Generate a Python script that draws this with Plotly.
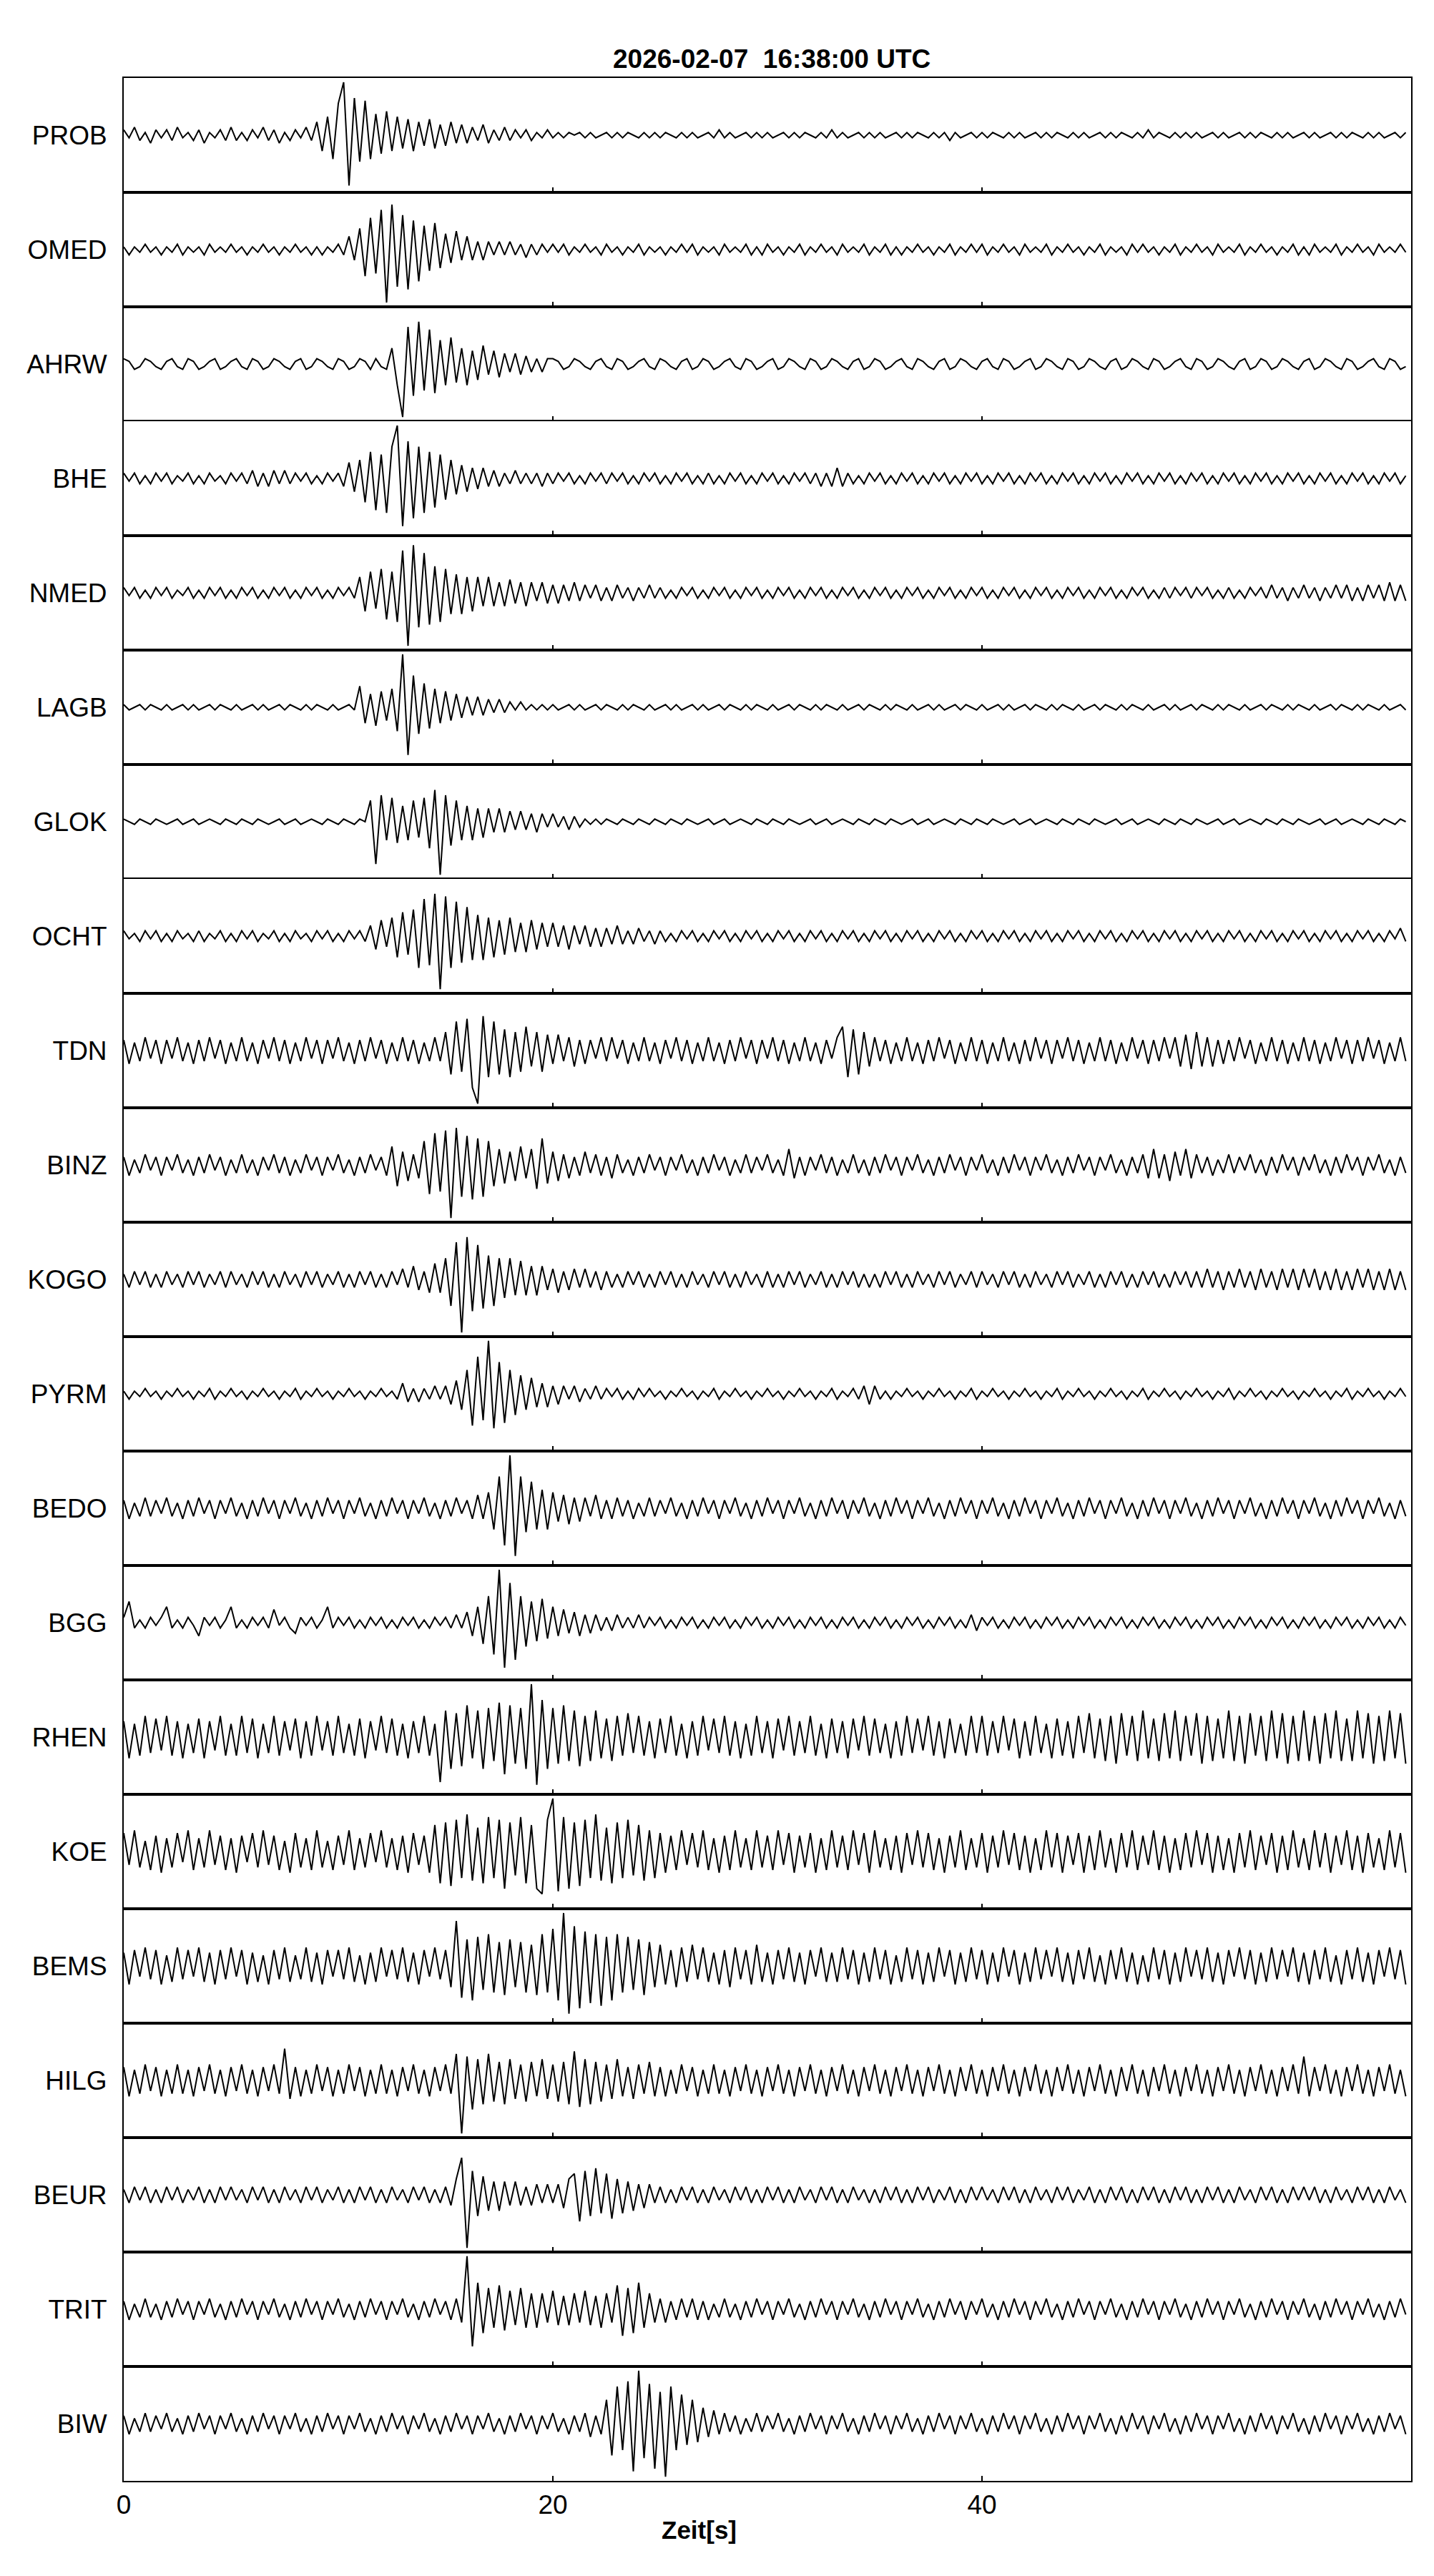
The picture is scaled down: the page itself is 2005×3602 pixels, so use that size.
import plotly.graph_objects as go
from plotly.subplots import make_subplots

TITLE = "2026-02-07\u00a0 16:38:00 UTC"
X_LABEL = "Zeit[s]"
DT = 0.25  # seconds between samples
X_RANGE = [0, 60]
X_TICKS = [0, 20, 40]
Y_LIM = 21.6

STATIONS = [
    "PROB", "OMED", "AHRW", "BHE", "NMED", "LAGB", "GLOK", "OCHT", "TDN", "BINZ", "KOGO",
    "PYRM", "BEDO", "BGG", "RHEN", "KOE", "BEMS", "HILG", "BEUR", "TRIT", "BIW",
]

# normalised amplitudes (max = 20), one sample every DT seconds
PROB = [
    2, -1, 3, -2, 1, -3, 2, -1, 2, -2, 3, -1, 1, -2, 2, -3, 1, -1, 2, -2,
    3, -2, 1, -2, 2, -1, 3, -2, 2, -3, 1, -2, 2, -1, 3, -2, 5, -6, 7, -9,
    12, 20, -19, 14, -10, 13, -9, 8, -7, 9, -6, 7, -5, 6, -6, 5, -4, 6, -5, 4,
    -4, 5, -3, 4, -3, 3, -2, 4, -3, 2, -2, 3, -2, 2, -1, 2, -2, 1, -1, 2,
    -1, 1, -1, 1, 0, 1, -1, 1, -1, 0, 1, -1, 1, -1, 1, 0, -1, 1, -1, 1,
    -1, 1, 0, -1, 1, -1, 1, -1, 0, 1, -1, 2, -1, 1, -1, 0, 1, -1, 1, -1,
    1, -1, 0, 1, -1, 1, -1, 1, 0, -1, 1, -1, 2, -1, 1, -1, 0, 1, -1, 1,
    -1, 1, -1, 0, 1, -1, 1, -1, 1, 0, -1, 1, -1, 1, -2, 1, -1, 0, 1, -1,
    1, -1, 1, 0, -1, 1, -1, 1, -1, 0, 1, -1, 1, -1, 1, 0, -1, 1, -1, 1,
    -1, 0, 1, -1, 1, -1, 1, 0, -1, 1, -1, 2, -1, 1, 0, -1, 1, -1, 1, -1,
    1, -1, 0, 1, -1, 1, -1, 0, 1, -1, 1, -1, 1, 0, -1, 1, -1, 1, -1, 0,
    1, -1, 1, -1, 0, 1, -1, 1, -1, 1, 0, -1, 1, -1, 1, -1, 0, 1, -1, 1,
]
OMED = [
    1, -2, 1, -1, 2, -1, 1, -2, 1, -1, 2, -2, 1, -1, 1, -2, 2, -1, 1, -1,
    2, -1, 1, -2, 1, -1, 2, -1, 1, -2, 1, -1, 2, -1, 1, -2, 1, -2, 1, -1,
    2, -2, 5, -4, 8, -10, 12, -9, 15, -20, 17, -14, 13, -15, 11, -12, 9, -8, 10, -7,
    6, -5, 7, -4, 5, -4, 3, -4, 3, -2, 3, -2, 3, -2, 2, -3, 2, -2, 2, -1,
    2, -1, 2, -2, 1, -1, 2, -1, 1, -2, 2, -1, 1, -2, 1, -1, 2, -2, 1, -1,
    1, -2, 1, -1, 2, -1, 2, -2, 1, -1, 1, -2, 2, -1, 1, -1, 2, -2, 1, -2,
    2, -1, 1, -2, 1, -1, 2, -2, 1, -1, 2, -1, 1, -2, 2, -1, 1, -1, 2, -2,
    1, -1, 2, -2, 1, -2, 1, -1, 2, -1, 1, -2, 1, -1, 2, -2, 1, -1, 2, -1,
    2, -2, 1, -1, 2, -1, 1, -2, 2, -1, 1, -1, 2, -2, 1, -1, 2, -1, 1, -2,
    1, -1, 2, -2, 1, -1, 1, -2, 2, -1, 2, -1, 1, -2, 1, -1, 2, -2, 1, -1,
    2, -1, 1, -2, 2, -1, 1, -1, 2, -2, 1, -1, 2, -1, 1, -2, 1, -1, 2, -2,
    1, -2, 2, -1, 1, -1, 2, -2, 1, -1, 2, -1, 1, -2, 2, -1, 1, -1, 2, -1,
]
AHRW = [
    2, 1, -2, -1, 2, 1, -1, -2, 1, 2, -1, -2, 2, 1, -2, -1, 1, 2, -2, -1,
    1, 2, -1, -2, 2, 1, -2, -1, 2, 1, -1, -2, 1, 2, -2, -1, 2, 1, -1, -2,
    2, 1, -2, -1, 2, 1, -2, 2, -1, -2, 6, -8, -20, 14, -12, 16, -10, 13, -11, 9,
    -8, 10, -7, 6, -8, 5, -6, 7, -4, 5, -5, 4, -3, 4, -4, 3, -3, 2, -3, 2,
    2, 1, -2, -1, 2, 1, -1, -2, 1, 2, -1, -2, 2, 1, -2, -1, 1, 2, -1, -2,
    2, 1, -1, -2, 1, 2, -2, -1, 2, 1, -2, -1, 1, 2, -1, -2, 2, 1, -2, -1,
    1, 2, -2, -1, 2, 1, -1, -2, 2, 1, -2, -1, 2, 1, -1, -2, 1, 2, -2, -1,
    2, 1, -2, -1, 1, 2, -1, -2, 2, 1, -1, -2, 1, 2, -2, -1, 2, 1, -1, -2,
    1, 2, -1, -2, 2, 1, -2, -1, 1, 2, -2, -1, 2, 1, -1, -2, 2, 1, -2, -1,
    2, 1, -1, -2, 1, 2, -2, -1, 2, 1, -1, -2, 2, 1, -2, -1, 1, 2, -1, -2,
    2, 1, -2, -1, 2, 1, -1, -2, 1, 2, -2, -1, 2, 1, -2, -1, 2, 1, -1, -2,
    1, 2, -2, -1, 2, 1, -1, -2, 2, 1, -2, -1, 1, 2, -1, -2, 2, 1, -2, -1,
]
BHE = [
    2, -1, 2, -2, 1, -2, 2, -1, 2, -2, 1, -1, 2, -2, 1, -2, 2, -1, 1, -2,
    2, -1, 2, -2, 3, -3, 2, -3, 3, -2, 3, -2, 2, -1, 2, -2, 1, -2, 2, -1,
    2, -3, 6, -5, 7, -9, 10, -12, 9, -13, 12, 20, -18, 14, -15, 12, -13, 10, -11, 9,
    -8, 7, -6, 5, -5, 4, -4, 4, -3, 3, -3, 2, -2, 3, -2, 2, -2, 2, -3, 2,
    -2, 2, -1, 2, -2, 1, -2, 2, -1, 2, -2, 2, -1, 2, -2, 1, -2, 2, -1, 2,
    -2, 1, -2, 2, -1, 2, -2, 1, -2, 2, -2, 1, -2, 2, -1, 2, -2, 1, -2, 2,
    -1, 2, -2, 1, -2, 2, -1, 2, -2, 2, -3, 2, -3, 4, -3, 2, -2, 1, -2, 2,
    -1, 2, -2, 1, -2, 2, -1, 2, -2, 1, -2, 2, -1, 2, -2, 1, -2, 2, -1, 2,
    -2, 1, -2, 2, -1, 2, -2, 1, -2, 2, -1, 2, -2, 1, -2, 2, -1, 2, -2, 1,
    -2, 2, -1, 2, -2, 1, -2, 2, -1, 2, -2, 1, -2, 2, -1, 2, -2, 1, -2, 2,
    -1, 2, -2, 1, -2, 2, -1, 2, -2, 1, -2, 2, -1, 2, -2, 1, -2, 2, -1, 2,
    -2, 1, -2, 2, -1, 2, -2, 1, -2, 2, -1, 2, -2, 1, -2, 2, -1, 2, -2, 1,
]
NMED = [
    2, -1, 2, -2, 1, -2, 2, -1, 2, -2, 1, -1, 2, -2, 1, -2, 2, -1, 2, -2,
    1, -2, 2, -1, 2, -2, 1, -2, 2, -1, 2, -2, 1, -2, 2, -1, 2, -2, 1, -2,
    2, -1, 2, -2, 6, -7, 8, -6, 9, -10, 8, -11, 16, -20, 18, -13, 15, -12, 10, -11,
    9, -8, 7, -8, 6, -7, 6, -5, 6, -5, 4, -5, 5, -4, 4, -5, 4, -3, 4, -4,
    3, -4, 3, -3, 4, -3, 3, -2, 3, -3, 2, -3, 3, -2, 2, -3, 2, -2, 3, -2,
    2, -2, 1, -2, 2, -1, 2, -2, 1, -2, 2, -1, 2, -2, 1, -2, 2, -1, 2, -2,
    1, -2, 2, -1, 2, -2, 1, -2, 2, -1, 2, -2, 1, -2, 2, -1, 2, -2, 1, -2,
    2, -1, 2, -2, 1, -2, 2, -1, 2, -2, 1, -2, 2, -1, 2, -2, 1, -2, 2, -1,
    2, -2, 1, -2, 2, -1, 2, -2, 1, -2, 2, -1, 2, -2, 1, -2, 2, -1, 2, -2,
    1, -2, 2, -1, 2, -2, 1, -2, 2, -1, 2, -2, 1, -2, 2, -2, 2, -1, 2, -2,
    2, -1, 2, -2, 1, -2, 2, -2, 1, -2, 2, -1, 2, -2, 3, -2, 2, -3, 2, -2,
    3, -2, 2, -3, 2, -2, 3, -2, 3, -3, 2, -3, 3, -2, 3, -3, 4, -3, 3, -3,
]
LAGB = [
    1, -1, 0, 1, -1, 1, 0, -1, 1, -1, 0, 1, -1, 1, -1, 0, 1, -1, 1, 0,
    -1, 1, -1, 0, 1, -1, 1, -1, 0, 1, -1, 1, 0, -1, 1, -1, 1, 0, -1, 1,
    -1, 0, 1, -1, 8, -6, 5, -7, 6, -5, 7, -9, 20, -18, 12, -10, 9, -8, 7, -6,
    6, -5, 5, -4, 4, -3, 4, -3, 3, -2, 3, -2, 2, -1, 2, -1, 1, -1, 1, -1,
    1, -1, 0, 1, -1, 1, -1, 0, 1, -1, 1, 0, -1, 1, -1, 1, 0, -1, 1, -1,
    0, 1, -1, 1, -1, 0, 1, -1, 1, -1, 0, 1, -1, 1, 0, -1, 1, -1, 1, 0,
    -1, 1, -1, 0, 1, -1, 1, 0, -1, 1, -1, 1, 0, -1, 1, -1, 0, 1, -1, 1,
    0, -1, 1, -1, 1, 0, -1, 1, -1, 0, 1, -1, 1, -1, 0, 1, -1, 1, 0, -1,
    1, -1, 0, 1, -1, 1, -1, 0, 1, -1, 1, 0, -1, 1, -1, 1, 0, -1, 1, -1,
    0, 1, -1, 1, 0, -1, 1, -1, 1, 0, -1, 1, -1, 0, 1, -1, 1, -1, 0, 1,
    -1, 1, 0, -1, 1, -1, 1, 0, -1, 1, -1, 0, 1, -1, 1, 0, -1, 1, -1, 1,
    0, -1, 1, -1, 0, 1, -1, 1, 0, -1, 1, -1, 1, 0, -1, 1, -1, 0, 1, -1,
]
GLOK = [
    1, 0, -1, 1, 0, -1, 1, 0, -1, 0, 1, -1, 0, 1, -1, 0, 1, 0, -1, 1,
    0, -1, 1, 0, -1, 1, 0, -1, 0, 1, -1, 0, 1, -1, 0, 1, 0, -1, 1, 0,
    -1, 1, 0, -1, 1, 0, 8, -16, 10, -7, 9, -8, 6, -7, 8, -6, 9, -10, 12, -20,
    10, -9, 8, -7, 6, -7, 5, -6, 5, -4, 5, -4, 4, -3, 4, -3, 3, -4, 3, -2,
    3, -2, 2, -3, 2, -2, 1, -1, 1, -1, 1, 0, -1, 1, 0, -1, 1, 0, -1, 1,
    0, -1, 1, 0, -1, 1, 0, -1, 0, 1, -1, 0, 1, -1, 0, 1, 0, -1, 1, 0,
    -1, 1, 0, -1, 1, 0, -1, 0, 1, -1, 0, 1, -1, 0, 1, 0, -1, 1, 0, -1,
    1, 0, -1, 1, 0, -1, 0, 1, -1, 0, 1, -1, 0, 1, 0, -1, 1, 0, -1, 1,
    0, -1, 1, 0, -1, 0, 1, -1, 0, 1, -1, 0, 1, 0, -1, 1, 0, -1, 1, 0,
    -1, 1, 0, -1, 0, 1, -1, 0, 1, -1, 0, 1, 0, -1, 1, 0, -1, 1, 0, -1,
    1, 0, -1, 0, 1, -1, 0, 1, -1, 0, 1, 0, -1, 1, 0, -1, 1, 0, -1, 1,
    0, -1, 0, 1, -1, 0, 1, -1, 0, 1, 0, -1, 1, 0, -1, 1, 0, -1, 1, 0,
]
OCHT = [
    2, -1, 1, -2, 2, -1, 2, -2, 1, -2, 2, -1, 1, -2, 2, -2, 1, -1, 2, -2,
    1, -2, 2, -1, 2, -2, 1, -1, 2, -2, 1, -2, 2, -1, 1, -2, 2, -1, 2, -2,
    1, -2, 2, -1, 2, -2, 4, -5, 6, -4, 7, -8, 9, -7, 10, -12, 14, -11, 16, -20,
    15, -12, 13, -10, 11, -9, 8, -9, 7, -8, 6, -7, 7, -6, 5, -6, 6, -5, 5, -4,
    5, -4, 4, -5, 4, -3, 4, -4, 3, -4, 3, -3, 4, -3, 2, -3, 3, -2, 2, -3,
    2, -2, 1, -2, 2, -1, 2, -2, 1, -2, 2, -1, 2, -2, 1, -2, 2, -1, 2, -2,
    1, -2, 2, -1, 2, -2, 1, -2, 2, -1, 2, -2, 1, -2, 2, -1, 2, -2, 1, -2,
    2, -1, 2, -2, 1, -2, 2, -1, 2, -2, 1, -2, 2, -1, 2, -2, 1, -2, 2, -1,
    2, -2, 1, -2, 2, -1, 2, -2, 1, -2, 2, -1, 2, -2, 1, -2, 2, -1, 2, -2,
    1, -2, 2, -1, 2, -2, 1, -2, 2, -1, 2, -2, 1, -2, 2, -1, 2, -2, 1, -2,
    2, -1, 2, -2, 1, -2, 2, -1, 2, -2, 1, -2, 2, -1, 2, -2, 1, -2, 2, -1,
    2, -2, 1, -2, 2, -1, 2, -2, 1, -2, 2, -1, 2, -2, 1, -2, 2, -1, 3, -2,
]
TDN = [
    4, -5, 3, -4, 5, -3, 4, -5, 4, -3, 5, -4, 3, -5, 4, -4, 5, -3, 4, -5,
    3, -4, 5, -4, 3, -5, 4, -3, 5, -4, 4, -5, 3, -4, 5, -3, 4, -5, 4, -3,
    5, -4, 3, -5, 4, -4, 5, -3, 4, -5, 3, -4, 5, -4, 4, -5, 3, -4, 5, -4,
    7, -9, 11, -8, 12, -14, -20, 13, -10, 11, -9, 8, -10, 7, -8, 9, -6, 7, -8, 6,
    -5, 6, -4, 5, -6, 4, -5, 4, -3, 5, -4, 5, -3, 4, -5, 3, -4, 5, -4, 3,
    -5, 4, -3, 5, -4, 4, -5, 3, -4, 5, -4, 3, -5, 4, -4, 5, -3, 4, -5, 4,
    -3, 5, -4, 4, -5, 3, -4, 5, -4, 3, -5, 4, -3, 5, 9, -10, 8, -9, 7, -6,
    5, -4, 4, -5, 3, -4, 5, -4, 3, -5, 4, -4, 5, -3, 4, -5, 3, -4, 5, -4,
    4, -5, 3, -4, 5, -4, 3, -5, 4, -4, 5, -3, 4, -5, 4, -3, 5, -4, 4, -5,
    3, -4, 5, -4, 4, -5, 3, -4, 5, -3, 4, -5, 4, -4, 5, -3, 5, -6, 6, -7,
    7, -6, 5, -6, 4, -5, 4, -4, 5, -3, 4, -5, 3, -4, 5, -4, 4, -5, 3, -4,
    5, -4, 4, -5, 3, -4, 5, -3, 4, -5, 4, -4, 5, -3, 4, -5, 3, -4, 5, -4,
]
BINZ = [
    3, -4, 2, -3, 4, -2, 3, -4, 3, -2, 4, -3, 2, -4, 3, -3, 4, -2, 3, -4,
    2, -3, 4, -3, 2, -4, 3, -2, 4, -3, 3, -4, 2, -3, 4, -2, 3, -4, 3, -2,
    4, -3, 2, -4, 3, -3, 4, -2, 3, -4, 7, -8, 5, -6, 4, -5, 9, -11, 12, -10,
    13, -20, 14, -12, 11, -13, 10, -12, 9, -8, 6, -7, 5, -6, 7, -5, 6, -9, 10, -7,
    5, -6, 4, -5, 3, -4, 5, -3, 4, -4, 3, -5, 4, -3, 2, -4, 3, -3, 4, -2,
    3, -4, 3, -2, 4, -3, 2, -4, 3, -3, 4, -2, 3, -4, 2, -3, 4, -3, 3, -2,
    4, -3, 2, -4, 6, -5, 3, -4, 3, -2, 4, -3, 3, -4, 2, -3, 4, -3, 2, -4,
    3, -3, 4, -2, 3, -4, 3, -2, 4, -3, 2, -4, 3, -3, 4, -2, 3, -4, 3, -2,
    4, -3, 2, -4, 3, -3, 4, -2, 3, -4, 3, -2, 4, -3, 2, -4, 3, -3, 4, -2,
    3, -4, 3, -2, 4, -3, 2, -4, 3, -3, 4, -5, 6, -5, 4, -6, 5, -4, 6, -5,
    4, -3, 3, -4, 2, -3, 4, -3, 3, -2, 4, -3, 2, -4, 3, -3, 4, -2, 3, -4,
    3, -2, 4, -3, 2, -4, 3, -3, 4, -2, 3, -4, 3, -2, 4, -3, 2, -4, 3, -3,
]
KOGO = [
    2, -3, 3, -2, 3, -3, 2, -3, 3, -2, 2, -3, 3, -2, 3, -3, 2, -2, 3, -3,
    3, -2, 2, -3, 3, -2, 3, -3, 2, -3, 3, -2, 2, -3, 3, -2, 3, -3, 2, -2,
    3, -3, 2, -3, 3, -2, 3, -3, 2, -3, 3, -2, 4, -3, 5, -4, 3, -5, 6, -5,
    8, -10, 14, -20, 16, -12, 13, -11, 9, -10, 8, -7, 8, -6, 7, -6, 5, -6, 5, -4,
    4, -5, 3, -4, 4, -3, 4, -3, 3, -4, 3, -3, 2, -3, 3, -2, 3, -3, 2, -3,
    3, -2, 3, -3, 2, -3, 3, -2, 2, -3, 3, -2, 3, -3, 2, -3, 3, -2, 2, -3,
    3, -3, 2, -3, 3, -2, 3, -3, 2, -2, 3, -3, 2, -3, 3, -2, 3, -3, 2, -3,
    2, -3, 3, -2, 3, -3, 2, -3, 3, -2, 2, -3, 3, -2, 3, -3, 2, -2, 3, -3,
    3, -2, 2, -3, 3, -2, 3, -3, 2, -3, 3, -2, 2, -3, 3, -2, 3, -3, 2, -2,
    3, -3, 2, -3, 3, -2, 3, -3, 2, -3, 3, -2, 3, -3, 2, -3, 3, -2, 3, -3,
    3, -3, 4, -3, 3, -4, 3, -3, 4, -3, 3, -4, 4, -3, 3, -4, 4, -3, 4, -4,
    4, -3, 4, -4, 3, -4, 4, -4, 3, -4, 4, -3, 4, -4, 3, -4, 4, -4, 3, -4,
]
PYRM = [
    1, -2, 1, -1, 2, -1, 1, -2, 1, -1, 2, -1, 1, -2, 1, -1, 2, -2, 1, -1,
    2, -1, 1, -2, 1, -1, 2, -1, 1, -2, 1, -1, 2, -2, 1, -1, 2, -1, 1, -2,
    1, -1, 2, -1, 1, -2, 1, -1, 2, -1, 1, -2, 4, -3, 2, -3, 2, -2, 3, -2,
    3, -4, 5, -6, 9, -12, 14, -10, 20, -13, 12, -11, 9, -8, 7, -6, 6, -5, 4, -5,
    3, -4, 3, -2, 3, -3, 2, -2, 3, -2, 2, -1, 2, -2, 1, -2, 2, -1, 2, -1,
    1, -2, 1, -1, 2, -1, 1, -2, 1, -1, 2, -2, 1, -1, 2, -1, 1, -2, 1, -1,
    2, -1, 1, -2, 1, -1, 2, -1, 1, -2, 1, -1, 2, -2, 1, -1, 2, -2, 3, -4,
    3, -2, 1, -2, 1, -1, 2, -1, 1, -2, 1, -1, 2, -1, 1, -2, 1, -1, 2, -2,
    1, -1, 2, -1, 1, -2, 1, -1, 2, -1, 1, -2, 1, -1, 2, -2, 1, -1, 2, -1,
    1, -2, 1, -1, 2, -1, 1, -2, 1, -1, 2, -2, 1, -1, 2, -1, 1, -2, 1, -1,
    2, -1, 1, -2, 1, -1, 2, -2, 1, -1, 2, -1, 1, -2, 1, -1, 2, -1, 1, -2,
    1, -1, 2, -1, 1, -2, 1, -1, 2, -2, 1, -1, 2, -1, 1, -2, 1, -1, 2, -1,
]
BEDO = [
    3, -4, 2, -3, 4, -3, 3, -2, 4, -3, 2, -4, 3, -3, 4, -2, 3, -4, 3, -2,
    4, -3, 2, -4, 3, -3, 4, -2, 3, -4, 3, -2, 4, -3, 2, -4, 3, -3, 4, -2,
    3, -4, 3, -2, 4, -3, 2, -4, 3, -3, 4, -2, 3, -4, 3, -2, 4, -3, 2, -4,
    3, -3, 4, -2, 3, -4, 5, -4, 6, -8, 12, -14, 20, -18, 12, -9, 10, -8, 7, -8,
    6, -5, 5, -6, 4, -5, 4, -3, 5, -4, 3, -4, 4, -3, 3, -4, 2, -3, 4, -3,
    3, -2, 4, -3, 2, -4, 3, -3, 4, -2, 3, -4, 3, -2, 4, -3, 2, -4, 3, -3,
    4, -2, 3, -4, 3, -2, 4, -3, 2, -4, 3, -3, 4, -2, 3, -4, 3, -2, 4, -3,
    2, -4, 3, -3, 4, -2, 3, -4, 3, -2, 4, -3, 2, -4, 3, -3, 4, -2, 3, -4,
    3, -2, 4, -3, 2, -4, 3, -3, 4, -2, 3, -4, 3, -2, 4, -3, 2, -4, 3, -3,
    4, -2, 3, -4, 3, -2, 4, -3, 2, -4, 3, -3, 4, -2, 3, -4, 3, -2, 4, -3,
    2, -4, 3, -3, 4, -2, 3, -4, 3, -2, 4, -3, 2, -4, 3, -3, 4, -2, 3, -4,
    3, -2, 4, -3, 2, -4, 3, -3, 4, -2, 3, -4, 3, -2, 4, -3, 2, -4, 3, -3,
]
BGG = [
    2, 8, -2, 1, -2, 2, -1, 2, 6, -2, 1, -2, 2, -1, -5, 2, -1, 2, -2, 1,
    6, -2, 1, -2, 2, -1, 2, -2, 5, -1, 2, -2, -4, 2, -1, 2, -2, 1, 6, -2,
    2, -1, 2, -2, 1, -2, 2, -1, 2, -2, 1, -2, 2, -1, 2, -2, 1, -2, 2, -1,
    2, -2, 3, -2, 4, -5, 6, -8, 10, -12, 20, -17, 15, -14, 10, -9, 8, -7, 9, -6,
    6, -5, 5, -4, 4, -5, 3, -4, 3, -3, 2, -3, 3, -2, 2, -2, 3, -2, 2, -1,
    2, -2, 1, -2, 2, -1, 2, -2, 1, -2, 2, -1, 2, -2, 1, -2, 2, -1, 2, -2,
    1, -2, 2, -1, 2, -2, 1, -2, 2, -1, 2, -2, 1, -2, 2, -1, 2, -2, 1, -2,
    2, -1, 2, -2, 1, -2, 2, -1, 2, -2, 1, -2, 2, -1, 2, -2, 1, -2, 3, -3,
    2, -1, 2, -2, 1, -2, 2, -1, 2, -2, 1, -2, 2, -1, 2, -2, 1, -2, 2, -1,
    2, -2, 1, -2, 2, -1, 2, -2, 1, -2, 2, -1, 2, -2, 1, -2, 2, -1, 2, -2,
    1, -2, 2, -1, 2, -2, 1, -2, 2, -1, 2, -2, 1, -2, 2, -1, 2, -2, 1, -2,
    2, -1, 2, -2, 1, -2, 2, -1, 2, -2, 1, -2, 2, -1, 2, -2, 1, -2, 2, -1,
]
RHEN = [
    6, -8, 5, -7, 8, -6, 7, -5, 8, -7, 6, -8, 5, -6, 7, -8, 6, -5, 8, -7,
    5, -7, 8, -6, 7, -8, 5, -6, 8, -7, 6, -5, 7, -8, 6, -7, 8, -5, 6, -7,
    8, -6, 5, -7, 7, -8, 6, -5, 8, -6, 7, -7, 5, -8, 6, -6, 8, -7, 5, -17,
    10, -12, 9, -11, 12, -8, 10, -12, 11, -9, 13, -14, 12, -10, 11, -12, 20, -18, 14, -12,
    11, -10, 12, -9, 10, -11, 8, -9, 10, -8, 7, -9, 8, -7, 9, -6, 8, -7, 6, -8,
    7, -6, 8, -7, 5, -8, 6, -7, 8, -5, 7, -6, 8, -7, 6, -8, 5, -7, 8, -6,
    6, -8, 7, -5, 8, -7, 6, -6, 8, -7, 5, -8, 7, -6, 6, -8, 7, -5, 8, -7,
    7, -6, 5, -8, 6, -7, 8, -6, 7, -5, 8, -7, 6, -8, 7, -6, 5, -7, 8, -6,
    8, -7, 6, -6, 8, -5, 7, -8, 6, -7, 8, -6, 5, -8, 7, -7, 6, -8, 8, -6,
    9, -8, 7, -9, 8, -10, 9, -7, 8, -9, 10, -8, 7, -9, 9, -8, 10, -9, 8, -7,
    9, -10, 8, -9, 7, -8, 10, -9, 8, -10, 9, -7, 8, -9, 10, -8, 9, -10, 8, -9,
    10, -9, 8, -10, 9, -8, 10, -9, 7, -9, 10, -8, 9, -10, 8, -9, 10, -8, 9, -10,
]
KOE = [
    7, -5, 8, -6, 4, -7, 6, -8, 5, -6, 7, -4, 8, -7, 5, -6, 8, -5, 6, -7,
    5, -8, 6, -4, 7, -6, 8, -5, 6, -7, 4, -8, 7, -6, 5, -7, 8, -6, 4, -7,
    6, -5, 8, -7, 5, -6, 7, -4, 8, -6, 5, -7, 6, -8, 7, -5, 6, -8, 10, -12,
    11, -13, 12, -10, 14, -11, 9, -12, 13, -10, 12, -14, 11, -9, 13, -12, 10, -14, -16, 12,
    20, -15, 13, -14, 11, -13, 12, -10, 14, -11, 9, -12, 11, -10, 12, -9, 10, -11, 8, -10,
    7, -8, 6, -7, 8, -5, 7, -6, 8, -7, 5, -8, 6, -7, 8, -6, 5, -7, 8, -6,
    6, -7, 8, -5, 7, -8, 6, -6, 7, -8, 5, -7, 8, -6, 6, -7, 8, -5, 7, -8,
    8, -6, 5, -7, 6, -8, 7, -5, 8, -6, 7, -7, 5, -8, 6, -6, 8, -7, 5, -6,
    7, -8, 6, -6, 8, -5, 7, -7, 6, -8, 5, -7, 8, -6, 7, -8, 6, -5, 7, -8,
    6, -7, 8, -6, 5, -8, 7, -6, 8, -7, 6, -5, 8, -7, 6, -8, 5, -7, 7, -6,
    8, -5, 7, -8, 6, -7, 5, -8, 7, -6, 8, -7, 6, -5, 7, -8, 6, -7, 8, -6,
    5, -7, 8, -6, 7, -8, 6, -5, 8, -7, 6, -8, 7, -6, 5, -7, 8, -6, 7, -8,
]
BEMS = [
    5, -7, 6, -4, 7, -5, 6, -7, 4, -6, 7, -5, 6, -4, 7, -6, 5, -7, 6, -5,
    7, -4, 6, -7, 5, -6, 4, -7, 6, -5, 7, -6, 4, -5, 7, -6, 5, -7, 6, -4,
    6, -5, 7, -6, 4, -7, 5, -6, 7, -4, 6, -5, 7, -6, 5, -7, 6, -4, 7, -5,
    6, -8, 17, -12, 10, -13, 11, -9, 12, -10, 9, -11, 10, -8, 9, -10, 8, -11, 12, -10,
    14, -13, 20, -18, 15, -16, 13, -14, 12, -15, 11, -13, 12, -10, 11, -9, 10, -11, 9, -8,
    8, -7, 6, -8, 7, -6, 8, -5, 7, -6, 5, -7, 6, -8, 7, -5, 6, -7, 8, -6,
    5, -7, 6, -5, 7, -6, 5, -7, 6, -4, 7, -6, 5, -6, 7, -5, 6, -7, 5, -6,
    7, -5, 6, -7, 4, -6, 7, -5, 6, -7, 5, -6, 7, -4, 6, -7, 5, -6, 7, -5,
    6, -7, 5, -6, 7, -4, 6, -7, 5, -6, 7, -5, 6, -4, 7, -6, 5, -7, 6, -5,
    7, -6, 4, -7, 6, -5, 7, -6, 5, -7, 4, -6, 7, -5, 6, -7, 5, -6, 7, -4,
    6, -5, 7, -6, 5, -7, 6, -4, 7, -5, 6, -7, 5, -6, 7, -5, 6, -4, 7, -6,
    5, -7, 6, -5, 7, -6, 4, -7, 6, -5, 7, -6, 5, -7, 6, -4, 7, -5, 6, -7,
]
HILG = [
    5, -6, 4, -5, 6, -4, 5, -6, 4, -5, 6, -5, 4, -6, 5, -4, 6, -5, 4, -6,
    5, -4, 6, -5, 4, -6, 5, -4, 6, -5, 12, -7, 5, -6, 4, -5, 6, -4, 5, -6,
    4, -5, 6, -4, 5, -6, 4, -5, 6, -5, 4, -6, 5, -4, 6, -5, 4, -6, 5, -4,
    6, -5, 10, -20, 9, -11, 8, -9, 10, -8, 7, -9, 8, -7, 6, -8, 7, -6, 8, -7,
    6, -8, 7, -9, 11, -10, 8, -9, 7, -8, 6, -7, 8, -6, 5, -7, 6, -5, 7, -6,
    5, -6, 4, -5, 6, -4, 5, -6, 4, -5, 6, -5, 4, -6, 5, -4, 6, -5, 4, -6,
    5, -4, 6, -5, 4, -6, 5, -4, 6, -5, 4, -6, 5, -4, 6, -5, 4, -6, 5, -4,
    6, -5, 4, -6, 5, -4, 6, -5, 4, -6, 5, -4, 6, -5, 4, -6, 5, -4, 6, -5,
    4, -6, 5, -4, 6, -5, 4, -6, 5, -4, 6, -5, 4, -6, 5, -4, 6, -5, 4, -6,
    5, -4, 6, -5, 4, -6, 5, -4, 6, -5, 4, -6, 5, -4, 6, -5, 4, -6, 5, -4,
    6, -5, 4, -6, 5, -4, 6, -5, 4, -6, 5, -4, 6, -5, 4, -6, 5, -4, 6, -5,
    9, -6, 5, -4, 6, -5, 4, -6, 5, -4, 6, -5, 4, -6, 5, -4, 6, -5, 4, -6,
]
BEUR = [
    2, -3, 3, -2, 3, -3, 2, -3, 3, -2, 3, -3, 2, -2, 3, -3, 2, -3, 3, -2,
    3, -2, 2, -3, 3, -2, 3, -3, 2, -3, 3, -2, 2, -3, 3, -2, 3, -3, 2, -2,
    3, -3, 2, -3, 3, -2, 3, -3, 2, -3, 3, -2, 2, -3, 3, -2, 3, -3, 2, -3,
    3, -4, 6, 14, -20, 9, -8, 7, -6, 5, -6, 5, -4, 5, -4, 3, -4, 4, -3, 4,
    -3, 4, -5, 6, 8, -10, 9, -8, 10, -7, 8, -9, 6, -7, 5, -6, 4, -5, 4, -3,
    3, -3, 2, -3, 3, -2, 3, -3, 2, -3, 3, -2, 2, -3, 3, -2, 3, -3, 2, -3,
    3, -2, 3, -3, 2, -3, 3, -2, 2, -3, 3, -2, 3, -3, 2, -3, 3, -2, 2, -3,
    2, -3, 3, -2, 3, -3, 2, -3, 3, -2, 3, -3, 2, -2, 3, -3, 2, -3, 3, -2,
    3, -2, 2, -3, 3, -2, 3, -3, 2, -3, 3, -2, 2, -3, 3, -2, 3, -3, 2, -2,
    3, -3, 2, -3, 3, -2, 3, -3, 2, -3, 3, -2, 3, -3, 2, -3, 3, -2, 3, -3,
    2, -3, 3, -2, 3, -3, 2, -3, 3, -2, 2, -3, 3, -2, 3, -3, 2, -3, 3, -2,
    3, -2, 3, -3, 2, -3, 3, -2, 2, -3, 3, -2, 3, -3, 2, -3, 3, -2, 2, -3,
]
TRIT = [
    3, -4, 2, -3, 4, -3, 2, -4, 3, -3, 4, -2, 3, -4, 3, -2, 4, -3, 2, -4,
    3, -3, 4, -2, 3, -4, 3, -2, 4, -3, 2, -4, 3, -3, 4, -2, 3, -4, 3, -2,
    4, -3, 2, -4, 3, -3, 4, -2, 3, -4, 3, -2, 4, -3, 2, -4, 3, -3, 4, -2,
    3, -4, 4, -5, 20, -14, 10, -9, 8, -7, 9, -8, 7, -6, 8, -7, 6, -7, 6, -5,
    7, -6, 5, -6, 6, -5, 7, -6, 5, -7, 6, -5, 9, -10, 8, -9, 10, -7, 6, -5,
    4, -5, 3, -4, 4, -3, 4, -4, 3, -4, 2, -3, 4, -3, 2, -4, 3, -3, 4, -2,
    3, -4, 3, -2, 4, -3, 2, -4, 3, -3, 4, -2, 3, -4, 3, -2, 4, -3, 2, -4,
    3, -3, 4, -2, 3, -4, 3, -2, 4, -3, 2, -4, 3, -3, 4, -2, 3, -4, 3, -2,
    4, -3, 2, -4, 3, -3, 4, -2, 3, -4, 3, -2, 4, -3, 2, -4, 3, -3, 4, -2,
    3, -4, 3, -2, 4, -3, 2, -4, 3, -3, 4, -2, 3, -4, 3, -2, 4, -3, 2, -4,
    3, -3, 4, -2, 3, -4, 3, -2, 4, -3, 2, -4, 3, -3, 4, -2, 3, -4, 3, -2,
    4, -3, 2, -4, 3, -3, 4, -2, 3, -4, 3, -2, 4, -3, 2, -4, 3, -3, 4, -2,
]
BIW = [
    3, -4, 2, -3, 4, -3, 3, -2, 4, -3, 2, -4, 3, -3, 4, -2, 3, -4, 3, -2,
    4, -3, 2, -4, 3, -3, 4, -2, 3, -4, 3, -2, 4, -3, 2, -4, 3, -3, 4, -2,
    3, -4, 3, -2, 4, -3, 2, -4, 3, -3, 4, -2, 3, -4, 3, -2, 4, -3, 2, -4,
    3, -3, 4, -2, 3, -4, 3, -2, 4, -3, 2, -4, 3, -3, 4, -2, 3, -4, 3, -2,
    4, -3, 2, -4, 3, -3, 4, -5, 3, -4, 9, -12, 14, -10, 16, -18, 20, -13, 15, -17,
    12, -20, 14, -10, 11, -8, 9, -7, 6, -5, 5, -4, 4, -3, 3, -4, 2, -3, 4, -3,
    3, -2, 4, -3, 2, -4, 3, -3, 4, -2, 3, -4, 3, -2, 4, -3, 2, -4, 3, -3,
    4, -2, 3, -4, 3, -2, 4, -3, 2, -4, 3, -3, 4, -2, 3, -4, 3, -2, 4, -3,
    2, -4, 3, -3, 4, -2, 3, -4, 3, -2, 4, -3, 2, -4, 3, -3, 4, -2, 3, -4,
    3, -2, 4, -3, 2, -4, 3, -3, 4, -2, 3, -4, 3, -2, 4, -3, 2, -4, 3, -3,
    4, -2, 3, -4, 3, -2, 4, -3, 2, -4, 3, -3, 4, -2, 3, -4, 3, -2, 4, -3,
    2, -4, 3, -3, 4, -2, 3, -4, 3, -2, 4, -3, 2, -4, 3, -3, 4, -2, 3, -4,
]

TRACES = [
    PROB, OMED, AHRW, BHE, NMED, LAGB, GLOK, OCHT, TDN, BINZ, KOGO,
    PYRM, BEDO, BGG, RHEN, KOE, BEMS, HILG, BEUR, TRIT, BIW,
]

FONT = "Liberation Sans, Arial, Helvetica, sans-serif"

n = len(STATIONS)
fig = make_subplots(rows=n, cols=1, shared_xaxes=True, vertical_spacing=0)

for i, (name, values) in enumerate(zip(STATIONS, TRACES)):
    times = [k * DT for k in range(len(values))]
    fig.add_trace(
        go.Scatter(
            x=times,
            y=values,
            mode="lines",
            line=dict(color="black", width=2),
            name=name,
            showlegend=False,
            hoverinfo="skip",
        ),
        row=i + 1,
        col=1,
    )
    fig.update_yaxes(ticktext=[name], row=i + 1, col=1)

fig.update_yaxes(
    range=[-Y_LIM, Y_LIM],
    tickvals=[0],
    ticks="",
    ticklabelstandoff=14,
    showgrid=False,
    zeroline=False,
    showline=True,
    mirror=True,
    linecolor="black",
    linewidth=2,
    tickfont=dict(family=FONT, size=37, color="black"),
)
fig.update_xaxes(
    range=X_RANGE,
    tickvals=X_TICKS,
    ticks="inside",
    ticklen=7,
    tickwidth=2,
    tickcolor="black",
    showgrid=False,
    zeroline=False,
    showline=True,
    mirror=True,
    linecolor="black",
    linewidth=2,
    tickfont=dict(family=FONT, size=37, color="black"),
)

fig.add_annotation(
    text=f"<b>{TITLE}</b>", xref="paper", yref="paper", x=0.5035, y=1.008,
    showarrow=False, font=dict(family=FONT, size=37, color="black"),
    xanchor="center", yanchor="middle",
)
fig.add_annotation(
    text=f"<b>{X_LABEL}</b>", xref="paper", yref="paper", x=0.4468, y=-0.0205,
    showarrow=False, font=dict(family=FONT, size=35, color="black"),
    xanchor="center", yanchor="middle",
)

# the page body adds an 8 px offset, so the figure is sized to fit the window
fig.update_layout(
    width=1997,
    height=3594,
    margin=dict(l=165, r=32, t=101, b=133),
    plot_bgcolor="white",
    paper_bgcolor="white",
    font=dict(family=FONT, color="black"),
)

fig.write_html("out.html")
